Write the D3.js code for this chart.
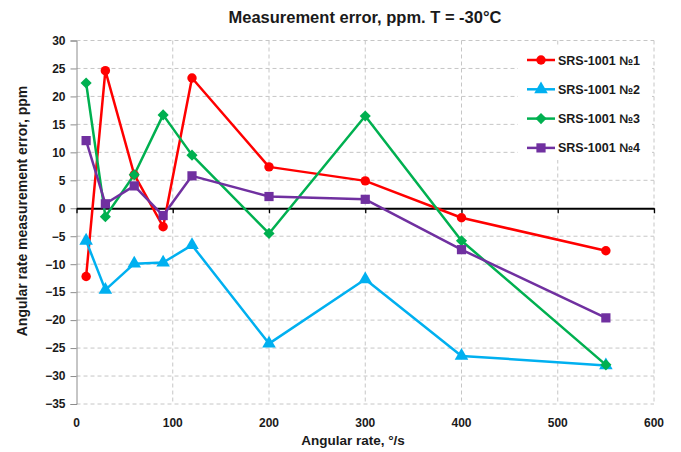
<!DOCTYPE html>
<html>
<head>
<meta charset="utf-8">
<script src="https://cdn.jsdelivr.net/npm/d3@7"></script>
<style>
  body { margin: 0; background: #fff; }
  text { font-family: "Liberation Sans", Arial, sans-serif; font-weight: bold; fill: #1a1a1a; }
</style>
</head>
<body>
<div id="chart"></div>
<script>
const rates = [10, 30, 60, 90, 120, 200, 300, 400, 550];
const srs1 = [-12.2, 24.6, 6.0, -3.3, 23.3, 7.4, 4.9, -1.7, -7.6];
const srs2 = [-5.8, -14.6, -9.9, -9.7, -6.6, -24.2, -12.7, -26.4, -28.1];
const srs3 = [22.4, -1.5, 6.0, 16.7, 9.5, -4.5, 16.5, -5.8, -28.0];
const srs4 = [12.1, 0.8, 4.0, -1.3, 5.8, 2.1, 1.6, -7.4, -19.6];
const seriesNames = ['SRS-1001 №1', 'SRS-1001 №2', 'SRS-1001 №3', 'SRS-1001 №4'];
const xTicks = [0, 100, 200, 300, 400, 500, 600];
const yTicks = d3.range(-35, 31, 5);

const width = 681;
const height = 452;
const margin = { left: 76.5, right: 27, top: 40.5, bottom: 48 };

const series = [
  { name: seriesNames[0], values: srs1, color: '#ff0000', symbol: d3.symbolCircle, size: 70, rot: 0 },
  { name: seriesNames[1], values: srs2, color: '#00b0f0', symbol: d3.symbolTriangle, size: 80, rot: 0 },
  { name: seriesNames[2], values: srs3, color: '#00b050', symbol: d3.symbolSquare, size: 62, rot: 45 },
  { name: seriesNames[3], values: srs4, color: '#7030a0', symbol: d3.symbolSquare, size: 85, rot: 0 }
];

const svg = d3.select('#chart').append('svg')
  .attr('width', width)
  .attr('height', height);

const x = d3.scaleLinear().domain([0, 600]).range([margin.left, width - margin.right]);
const y = d3.scaleLinear().domain([-35, 30]).range([height - margin.bottom, margin.top]);

// grid
svg.append('g')
  .selectAll('line')
  .data(yTicks.filter(d => d !== 0))
  .join('line')
  .attr('x1', x(0)).attr('x2', x(600))
  .attr('y1', d => y(d)).attr('y2', d => y(d))
  .attr('stroke', '#c6c6c6').attr('stroke-dasharray', '4,3');

svg.append('g')
  .selectAll('line')
  .data(xTicks.filter(d => d !== 0))
  .join('line')
  .attr('x1', d => x(d)).attr('x2', d => x(d))
  .attr('y1', y(30)).attr('y2', y(-35))
  .attr('stroke', '#c6c6c6').attr('stroke-dasharray', '4,3');

// y axis
const yAxis = svg.append('g')
  .attr('transform', `translate(${x(0)},0)`)
  .call(d3.axisLeft(y).tickValues(yTicks).tickSize(6).tickPadding(5));
yAxis.select('.domain').attr('stroke', '#8c8c8c');
yAxis.selectAll('.tick line').attr('stroke', '#8c8c8c');
yAxis.selectAll('.tick text')
  .style('font-size', '12px')
  .style('font-family', '"Liberation Sans", Arial, sans-serif')
  .style('font-weight', 'bold')
  .attr('fill', '#1a1a1a');

// x axis at zero
const xAxis = svg.append('g')
  .attr('transform', `translate(0,${y(0)})`)
  .call(d3.axisBottom(x).tickValues(xTicks).tickSize(5).tickSizeOuter(0).tickFormat(''));
xAxis.select('.domain').attr('stroke', '#000').attr('stroke-width', 2);
xAxis.selectAll('.tick line').attr('stroke', '#000').attr('stroke-width', 1.3);

svg.append('g')
  .selectAll('text')
  .data(xTicks)
  .join('text')
  .attr('x', d => x(d))
  .attr('y', y(-35) + 23)
  .attr('text-anchor', 'middle')
  .style('font-size', '12px')
  .text(d => d);

// lines and markers
const line = d3.line()
  .x((d, i) => x(rates[i]))
  .y(d => y(d));

series.forEach(s => {
  svg.append('path')
    .attr('d', line(s.values))
    .attr('fill', 'none')
    .attr('stroke', s.color)
    .attr('stroke-width', 2.5)
    .attr('stroke-linejoin', 'round');
});

series.forEach(s => {
  svg.append('g')
    .selectAll('path')
    .data(s.values)
    .join('path')
    .attr('transform', (d, i) => `translate(${x(rates[i])},${y(d)}) rotate(${s.rot})`)
    .attr('d', d3.symbol().type(s.symbol).size(s.size))
    .attr('fill', s.color);
});

// legend
const legend = svg.append('g');
legend.append('rect')
  .attr('x', 518).attr('y', 46)
  .attr('width', 134).attr('height', 114)
  .attr('fill', '#fff');

const item = legend.selectAll('g')
  .data(series)
  .join('g')
  .attr('transform', (d, i) => `translate(527,${60 + i * 29.3})`);
item.append('line')
  .attr('x1', 0).attr('x2', 28)
  .attr('stroke', d => d.color)
  .attr('stroke-width', 2.5);
item.append('path')
  .attr('transform', d => `translate(14,0) rotate(${d.rot})`)
  .attr('d', d => d3.symbol().type(d.symbol).size(d.size)())
  .attr('fill', d => d.color);
item.append('text')
  .attr('x', 31)
  .attr('dy', '0.36em')
  .style('font-size', '12.5px')
  .text(d => d.name);

// titles
svg.append('text')
  .attr('x', 365).attr('y', 23)
  .attr('text-anchor', 'middle')
  .style('font-size', '16.5px')
  .text('Measurement error, ppm. T = -30°C');

svg.append('text')
  .attr('x', 353).attr('y', 445)
  .attr('text-anchor', 'middle')
  .style('font-size', '13.5px')
  .text('Angular rate, °/s');

svg.append('text')
  .attr('transform', `translate(27,${211}) rotate(-90)`)
  .attr('text-anchor', 'middle')
  .style('font-size', '14px')
  .text('Angular rate measurement error, ppm');
</script>
</body>
</html>
